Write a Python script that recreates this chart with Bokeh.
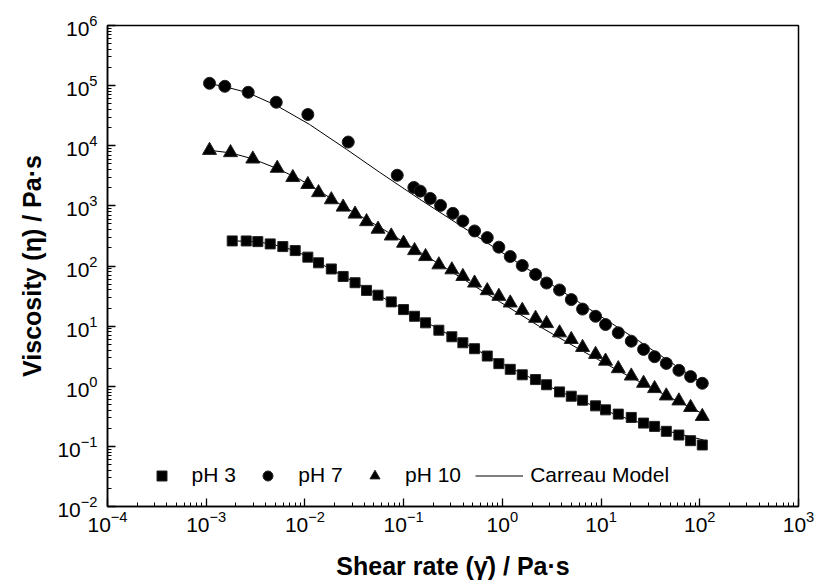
from bokeh.plotting import figure
from bokeh.models import FixedTicker, LogTickFormatter, Legend, LegendItem, Range1d
from bokeh.embed import file_html
from bokeh.resources import INLINE

# ---------------- data ----------------
shear_ph3 = [1.834e-3, 2.543e-3, 3.332e-3, 4.45e-3, 5.97e-3, 7.97e-3, 1.070e-2, 1.373e-2,
             1.851e-2, 2.438e-2, 3.219e-2, 4.208e-2, 5.502e-2, 7.49e-2, 9.98e-2, 0.129,
             0.1667, 0.2273, 0.3079, 0.3979, 0.5229, 0.7031, 0.9215, 1.202, 1.591, 2.170,
             2.804, 3.797, 4.991, 6.494, 8.796, 11.10, 14.94, 20.23, 26.95, 34.83, 45.78,
             61.41, 80.68, 106.0]
visc_ph3 = [261.3, 261.0, 254.4, 233.1, 210.3, 180.5, 140.4, 113.0, 89.2, 67.0, 52.7, 39.3,
            32.7, 25.3, 18.83, 14.58, 11.34, 8.55, 6.65, 5.29, 4.21, 3.18, 2.376, 1.912,
            1.550, 1.291, 1.059, 0.805, 0.683, 0.586, 0.472, 0.405, 0.344, 0.303, 0.244,
            0.215, 0.178, 0.1544, 0.1243, 0.1055]

shear_ph7 = [1.080e-3, 1.543e-3, 2.664e-3, 5.12e-3, 1.070e-2, 2.746e-2, 8.61e-2, 0.1269,
             0.1474, 0.1860, 0.2365, 0.3151, 0.3979, 0.5229, 0.7031, 0.9215, 1.202, 1.591,
             2.170, 2.804, 3.797, 4.991, 6.494, 8.796, 11.10, 14.94, 20.23, 26.95, 34.83,
             45.78, 61.41, 80.68, 106.0]
visc_ph7 = [109200, 97370, 77460, 52900, 33110, 11520, 3235, 2024, 1758, 1331, 1019, 751,
            560, 382.5, 296.5, 205.6, 143.7, 101.9, 72.3, 52.1, 39.9, 27.6, 19.2, 14.58,
            10.63, 7.74, 5.62, 4.10, 3.10, 2.40, 1.840, 1.447, 1.121]

shear_ph10 = [1.080e-3, 1.763e-3, 2.965e-3, 5.24e-3, 7.54e-3, 1.070e-2, 1.373e-2, 1.851e-2,
              2.438e-2, 3.219e-2, 4.208e-2, 5.502e-2, 7.49e-2, 9.98e-2, 0.129, 0.1667,
              0.2273, 0.3079, 0.3979, 0.5229, 0.7031, 0.9215, 1.202, 1.591, 2.170, 2.804,
              3.797, 4.991, 6.494, 8.796, 11.10, 14.94, 20.23, 26.95, 34.83, 45.78, 61.41,
              80.68, 106.0]
visc_ph10 = [8390, 7690, 6024, 4225, 2964, 2270, 1661, 1266, 955, 731, 547, 410, 316, 239.4,
             180.5, 143.7, 104.7, 86.5, 67.0, 52.1, 38.9, 31.3, 24.3, 18.34, 13.51, 11.04,
             7.74, 6.00, 4.42, 3.39, 2.62, 1.963, 1.481, 1.121, 0.916, 0.691, 0.571, 0.444,
             0.315]

# Carreau model curves
fit_shear_ph7 = [1.080e-3, 1.532e-3, 2.620e-3, 5.157e-3, 1.113e-2, 2.639e-2, 5.698e-2,
                 0.1449, 0.3684, 1.494, 6.057, 24.55, 109.3]
fit_visc_ph7 = [107900, 96250, 76600, 46670, 22610, 8717, 3627, 1296, 481, 108.7, 24.59,
                5.559, 1.079]

fit_shear_ph10 = [1.080e-3, 1.763e-3, 2.944e-3, 5.278e-3, 8.82e-3, 1.405e-2, 2.518e-2,
                  5.698e-2, 0.1449, 0.3684, 0.9367, 2.382, 6.057, 15.40, 39.15, 109.3]
fit_visc_ph10 = [8390, 7630, 6070, 4145, 2778, 1758, 955, 445.7, 171.8, 66.2, 25.54, 9.85,
                 4.10, 1.771, 0.796, 0.344]

fit_shear_ph3 = [1.834e-3, 2.543e-3, 3.309e-3, 4.483e-3, 5.929e-3, 8.03e-3, 1.062e-2,
                 1.405e-2, 1.860e-2, 2.461e-2, 5.698e-2, 0.1449, 0.3684, 0.9367, 2.382,
                 6.057, 15.40, 39.15, 109.3]
fit_visc_ph3 = [261.3, 258.4, 251.6, 233.1, 207.9, 178.5, 142.0, 110.8, 88.2, 67.5, 32.1,
                13.36, 5.775, 2.497, 1.165, 0.586, 0.3187, 0.1941, 0.1276]

x_tick_exponents = [-4, -3, -2, -1, 0, 1, 2, 3]
y_tick_exponents = [-2, -1, 0, 1, 2, 3, 4, 5, 6]

FONT = "Liberation Sans"

p = figure(width=814, height=584, x_axis_type="log", y_axis_type="log",
           x_range=Range1d(1e-4, 1e3), y_range=Range1d(1e-2, 1e6),
           output_backend="svg", toolbar_location=None,
           min_border_left=107, min_border_right=16, min_border_top=25, min_border_bottom=78)

p.xgrid.visible = False
p.ygrid.visible = False
p.outline_line_color = "black"
p.outline_line_width = 1.5
p.background_fill_color = "white"
p.border_fill_color = "white"

xt = [10.0 ** e for e in x_tick_exponents]
yt = [10.0 ** e for e in y_tick_exponents]
x_minor = [m * 10.0 ** e for e in x_tick_exponents[:-1] for m in range(2, 10)]
y_minor = [m * 10.0 ** e for e in y_tick_exponents[:-1] for m in range(2, 10)]
p.xaxis.ticker = FixedTicker(ticks=xt, minor_ticks=x_minor)
p.yaxis.ticker = FixedTicker(ticks=yt, minor_ticks=y_minor)
p.xaxis.formatter = LogTickFormatter()
p.yaxis.formatter = LogTickFormatter()

for ax in (p.xaxis, p.yaxis):
    ax.axis_line_color = "black"
    ax.axis_line_width = 1.5
    ax.major_tick_in = 8
    ax.major_tick_out = 0
    ax.minor_tick_in = 4
    ax.minor_tick_out = 0
    ax.major_tick_line_color = "black"
    ax.minor_tick_line_color = "black"
    ax.major_tick_line_width = 1.3
    ax.minor_tick_line_width = 1.0
    ax.major_label_text_font = FONT
    ax.major_label_text_font_size = "21px"
    ax.major_label_text_color = "black"
    ax.axis_label_text_font = FONT
    ax.axis_label_text_font_style = "bold"
    ax.axis_label_text_font_size = "25px"
    ax.axis_label_text_color = "black"

p.xaxis.axis_label = "Shear rate (\u03b3\u0307) / Pa\u00b7s"
p.yaxis.axis_label = "Viscosity (\u03b7) / Pa\u00b7s"
p.xaxis.major_label_standoff = 4
p.yaxis.major_label_standoff = 10
p.xaxis.axis_label_standoff = 17
p.yaxis.axis_label_standoff = 8

# Carreau model lines
l7 = p.line(fit_shear_ph7, fit_visc_ph7, line_color="black", line_width=1)
p.line(fit_shear_ph10, fit_visc_ph10, line_color="black", line_width=1)
p.line(fit_shear_ph3, fit_visc_ph3, line_color="black", line_width=1)

# data markers
r3 = p.scatter(shear_ph3, visc_ph3, marker="square", size=10,
               fill_color="black", line_color="#222222")
r7 = p.scatter(shear_ph7, visc_ph7, marker="circle", size=12,
               fill_color="black", line_color="#222222")
r10 = p.scatter(shear_ph10, visc_ph10, marker="triangle", size=14,
                fill_color="black", line_color="#222222")

def mk_legend(label, renderer, loc, gw, standoff):
    lg = Legend(items=[LegendItem(label=label, renderers=[renderer])],
                location=loc, orientation="horizontal",
                glyph_width=gw, glyph_height=25, label_standoff=standoff,
                padding=0, margin=0, spacing=0,
                border_line_alpha=0, background_fill_alpha=0,
                label_text_font=FONT, label_text_font_size="21px",
                label_text_color="black")
    p.add_layout(lg, "center")

mk_legend("pH 3", r3, (41.5, 18.5), 25, 18)
mk_legend("pH 7", r7, (148.3, 18.5), 25, 18)
mk_legend("pH 10", r10, (255, 18.5), 25, 18)
mk_legend("Carreau Model", l7, (368.2, 18.5), 48, 7)

open("out.html", "w").write(file_html(p, INLINE))
